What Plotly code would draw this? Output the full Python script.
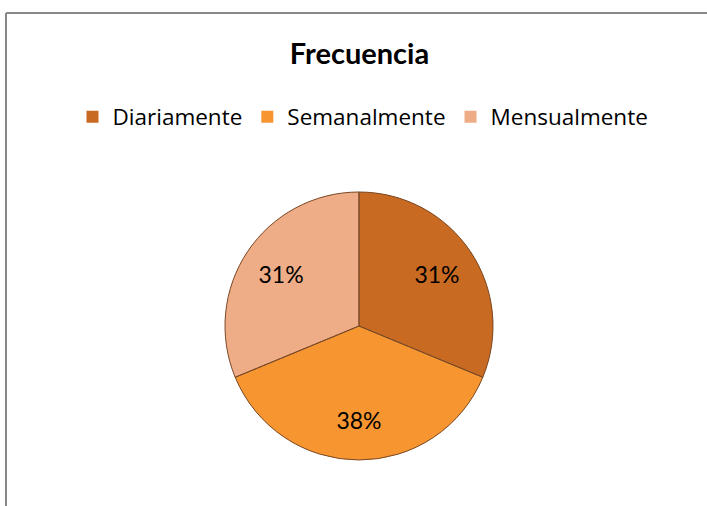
import plotly.graph_objects as go

categories = ["Diariamente", "Semanalmente", "Mensualmente"]
values = [5, 6, 5]
colors = ["#C96A22", "#F79630", "#EFAD87"]

W, H = 707, 506
cx, cy, r = 359, 326, 134
dom = dict(x=[(cx - r) / W, (cx + r) / W], y=[(H - cy - r) / H, (H - cy + r) / H])
line = dict(color="#7a4a28", width=1)
common = dict(labels=categories, values=values, sort=False, direction="clockwise", rotation=0, domain=dom)

fig = go.Figure()
# full pie (colour fill)
fig.add_trace(go.Pie(
    **common, marker=dict(colors=colors, line=dict(width=0)), textinfo="none",
    hoverinfo="label+percent", showlegend=True,
))
# ring on top carrying the percentage labels further out
fig.add_trace(go.Pie(
    **common, hole=0.40, marker=dict(colors=colors, line=dict(width=0)),
    texttemplate="%{percent:.0%}", textposition="inside", insidetextorientation="horizontal",
    textfont=dict(family="Lato, Open Sans, sans-serif", size=23, color="black"),
    hoverinfo="skip", showlegend=False,
))
# outline of slices
fig.add_trace(go.Pie(
    **common, marker=dict(colors=["rgba(0,0,0,0)"] * len(values), line=line),
    textinfo="none", hoverinfo="skip", showlegend=False,
))

fig.update_layout(
    width=W, height=H,
    margin=dict(l=0, r=0, t=0, b=0),
    paper_bgcolor="white",
    plot_bgcolor="white",
    title=dict(text="<b>Frecuencia</b>", x=(289 + 430) / 2 / W, xanchor="center", y=1 - 54 / H, yanchor="middle",
               font=dict(family="Lato, Open Sans, sans-serif", size=29, color="black")),
    legend=dict(orientation="h", x=(71 + 655) / 2 / W, xanchor="center", y=1 - 117 / H, yanchor="middle",
                font=dict(family="Open Sans, sans-serif", size=22.5, color="black"),
                itemwidth=30, traceorder="normal"),
    shapes=[
        dict(type="line", xref="paper", yref="paper", x0=6 / W, x1=1.0, y0=1 - 13 / H, y1=1 - 13 / H,
             line=dict(color="#888888", width=2)),
        dict(type="line", xref="paper", yref="paper", x0=6 / W, x1=6 / W, y0=0, y1=1 - 13 / H,
             line=dict(color="#888888", width=2)),
    ],
)

fig.write_html("out.html", config={"displayModeBar": False},
               post_script="document.body.style.margin='0';document.body.style.overflow='hidden';")
